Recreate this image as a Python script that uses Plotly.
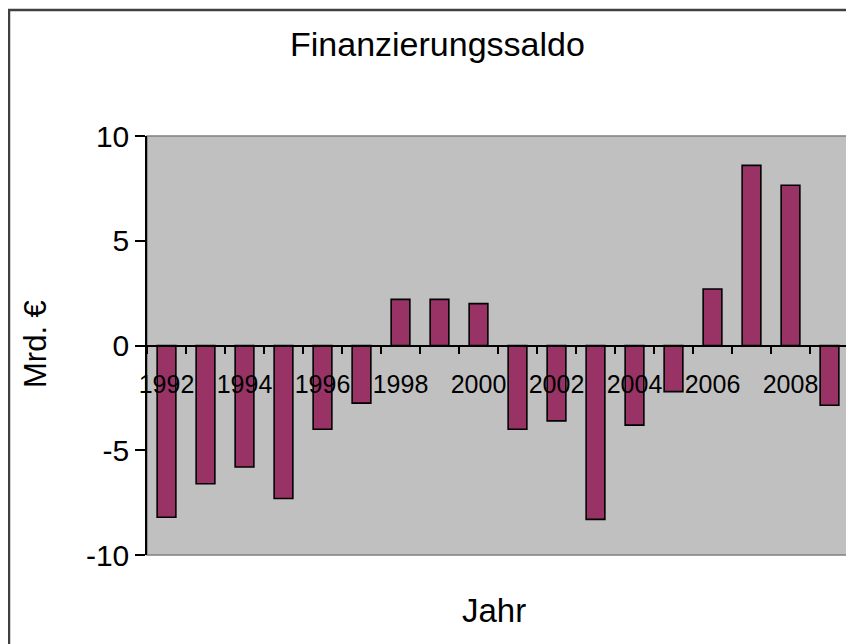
import plotly.graph_objects as go

years = list(range(1992, 2010))
saldo = [-8.2, -6.6, -5.8, -7.3, -4.0, -2.75, 2.2, 2.2, 2.0,
         -4.0, -3.6, -8.3, -3.8, -2.2, 2.7, 8.6, 7.65, -2.85]
tick_years = list(range(1992, 2010, 2))
tick_labels = [str(y) for y in tick_years]
boundaries = [y - 0.5 for y in range(1992, 2011)]
y_ticks = [-10, -5, 0, 5, 10]
y_tick_labels = ["-10", "-5", "0", "5", "10"]

title_text = "Finanzierungssaldo"
x_title = "Jahr"
y_title = "Mrd. €"

FONT = "Liberation Sans, Arial, sans-serif"
OFF = 8  # page body margin in the browser
L, R, T, B = 147 - OFF, 5, 136 - OFF, 89
W, H = 854 - OFF, 644 - OFF
pw, ph = W - L - R, H - T - B

def px(xp):
    return (xp - OFF - L) / pw

def py(yp):
    return (H - B - (yp - OFF)) / ph

fig = go.Figure()
fig.add_trace(go.Bar(
    x=years, y=saldo, width=0.48,
    marker=dict(color="#993366", line=dict(color="#000000", width=1.6)),
    hoverinfo="x+y",
))

fig.update_layout(
    width=W, height=H,
    margin=dict(l=L, r=R, t=T, b=B, pad=0),
    paper_bgcolor="white",
    plot_bgcolor="#C0C0C0",
    showlegend=False,
    font=dict(family=FONT, color="black"),
    xaxis=dict(
        range=[1991.5, 2009.5],
        anchor="free", position=0.5,
        showline=True, linecolor="black", linewidth=1.5,
        showgrid=False, zeroline=False,
        tickmode="array", tickvals=tick_years, ticktext=tick_labels,
        ticks="outside", ticklen=17, tickcolor="rgba(0,0,0,0)",
        tickfont=dict(size=25, family=FONT, color="black"),
        minor=dict(tickmode="array", tickvals=boundaries, ticks="outside",
                   ticklen=8, tickcolor="black", tickwidth=1.5, showgrid=False),
        fixedrange=True,
    ),
    yaxis=dict(
        range=[-10, 10],
        tickmode="array", tickvals=y_ticks, ticktext=y_tick_labels,
        showline=True, linecolor="black", linewidth=1.5,
        showgrid=False, zeroline=False,
        ticks="outside", ticklen=10, tickcolor="black", tickwidth=1.5,
        tickfont=dict(size=30, family=FONT, color="black"),
        automargin=False,
        fixedrange=True,
    ),
    shapes=[
        dict(type="rect", xref="paper", yref="paper", x0=0, y0=0, x1=1, y1=1,
             line=dict(color="#808080", width=1.5), layer="below"),
        dict(type="rect", xref="paper", yref="paper",
             x0=px(9), y0=py(10), x1=px(900), y1=py(700),
             line=dict(color="#404040", width=2.5), layer="above"),
    ],
    annotations=[
        dict(text=title_text, xref="paper", yref="paper", x=px(437), y=py(44),
             xanchor="center", yanchor="middle", showarrow=False,
             font=dict(size=34, family=FONT, color="black")),
        dict(text=x_title, xref="paper", yref="paper", x=px(494), y=py(610),
             xanchor="center", yanchor="middle", showarrow=False,
             font=dict(size=33, family=FONT, color="black")),
        dict(text=y_title, xref="paper", yref="paper", x=px(35), y=py(344),
             xanchor="center", yanchor="middle", showarrow=False, textangle=-90,
             font=dict(size=31, family=FONT, color="black")),
    ],
)

fig.write_html("out.html")
